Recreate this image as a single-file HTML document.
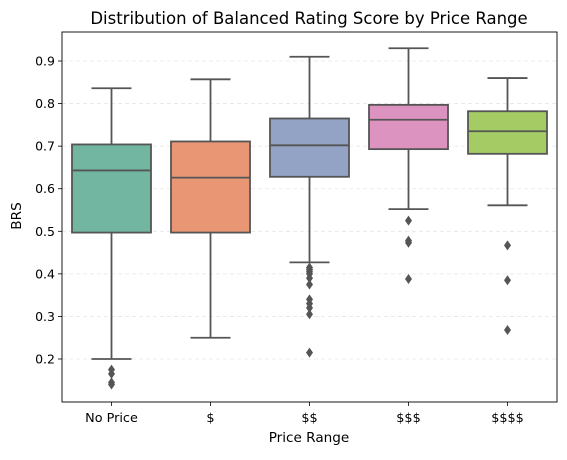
<!DOCTYPE html>
<html><head><meta charset="utf-8"><style>
body{margin:0;background:#fff;font-family:"Liberation Sans","DejaVu Sans",sans-serif}
svg text{font-family:"DejaVu Sans","Liberation Sans",sans-serif}
</style></head><body>
<svg id="chart" width="567" height="455" viewBox="0 0 567 455" xmlns="http://www.w3.org/2000/svg">
<text x="309" y="24" font-size="16.5" text-anchor="middle" fill="#000">Distribution of Balanced Rating Score by Price Range</text>
<g id="grid"></g><g id="boxes"></g><g id="axes"></g>
<text x="309" y="442" font-size="13.6" text-anchor="middle">Price Range</text>
<text transform="translate(21,216) rotate(-90)" font-size="13.6" text-anchor="middle">BRS</text>
</svg>
<script>
const categories=["No Price","$","$$","$$$","$$$$"];
const whiskerLow=[0.2,0.25,0.427,0.552,0.561];
const q1=[0.497,0.497,0.628,0.693,0.682];
const median=[0.643,0.626,0.702,0.762,0.735];
const q3=[0.704,0.711,0.765,0.797,0.782];
const whiskerHigh=[0.836,0.857,0.91,0.93,0.86];
const outliers=[[0.175,0.165,0.145,0.14],[],[0.415,0.41,0.405,0.40,0.39,0.375,0.34,0.33,0.32,0.305,0.215],[0.525,0.478,0.473,0.388],[0.467,0.385,0.268]];
const yTicks=[0.2,0.3,0.4,0.5,0.6,0.7,0.8,0.9];
const colors=["#72b6a1","#e99675","#93a3c5","#dc93c0","#a5cc64"];
const L=62,R=557,T=32,B=402;
const y=v=>359-(v-0.2)*425.7;
const step=(R-L)/categories.length;
const x=i=>L+step*(i+0.5);
const NS="http://www.w3.org/2000/svg";
function mk(tag,attrs,parent){const e=document.createElementNS(NS,tag);for(const k in attrs)e.setAttribute(k,attrs[k]);parent.appendChild(e);return e;}
const grid=document.getElementById('grid'),boxes=document.getElementById('boxes'),axes=document.getElementById('axes');
yTicks.forEach(t=>{
 const g=mk('line',{x1:L,x2:R,y1:y(t),y2:y(t),stroke:'#e6e6e6','stroke-dasharray':'4,3','stroke-width':0.8},grid);
 
 
 const tk=mk('line',{x1:L-4,x2:L,y1:y(t),y2:y(t),stroke:'#000','stroke-width':0.8},axes);
 
 
 const tx=mk('text',{x:L-7,y:y(t)+4.5,'font-size':12.5,'text-anchor':'end'},axes);
 tx.textContent=t.toFixed(1);
 
 
});
const bw=79,cw=40,lc='#555',lw=1.8;
categories.forEach((c,i)=>{
 const cx=x(i);
 const g=mk('g',{},boxes);
 
 
 mk('line',{x1:cx,x2:cx,y1:y(whiskerLow[i]),y2:y(q1[i]),stroke:lc,'stroke-width':lw},g);
 mk('line',{x1:cx,x2:cx,y1:y(q3[i]),y2:y(whiskerHigh[i]),stroke:lc,'stroke-width':lw},g);
 mk('line',{x1:cx-cw/2,x2:cx+cw/2,y1:y(whiskerLow[i]),y2:y(whiskerLow[i]),stroke:lc,'stroke-width':lw},g);
 mk('line',{x1:cx-cw/2,x2:cx+cw/2,y1:y(whiskerHigh[i]),y2:y(whiskerHigh[i]),stroke:lc,'stroke-width':lw},g);
 mk('rect',{x:cx-bw/2,y:y(q3[i]),width:bw,height:y(q1[i])-y(q3[i]),fill:colors[i],stroke:lc,'stroke-width':lw},g);
 mk('line',{x1:cx-bw/2,x2:cx+bw/2,y1:y(median[i]),y2:y(median[i]),stroke:lc,'stroke-width':lw},g);
 outliers[i].forEach(o=>{
  const p=mk('path',{d:`M${cx},${y(o)-5} L${cx+3.5},${y(o)} L${cx},${y(o)+5} L${cx-3.5},${y(o)} Z`,fill:lc},g);
  
  
 });
 const tk=mk('line',{x1:cx,x2:cx,y1:B,y2:B+4,stroke:'#000','stroke-width':0.8},axes);
 
 
 const tx=mk('text',{x:cx,y:B+20,'font-size':12.8,'text-anchor':'middle'},axes);
 tx.textContent=c;
 
 
});
const fr=mk('rect',{x:L,y:T,width:R-L,height:B-T,fill:'none',stroke:'#000','stroke-width':0.9},axes);


</script>
</body></html>
